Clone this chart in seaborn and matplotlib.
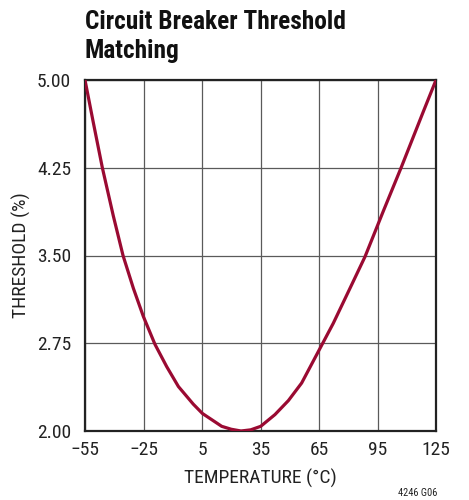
import matplotlib
matplotlib.use("Agg")
import matplotlib.pyplot as plt
import seaborn as sns
import pandas as pd

temperature = [-55, -50.9, -46.1, -40.5, -35.5, -30.2, -25.1, -19.1, -13.1, -7.1, 0.5, 5.2, 15.1, 20, 25,
               30, 35.1, 42.4, 49.3, 56.1, 65, 72.3, 80.9, 88.6, 98, 107.1, 118.5, 125]
threshold = [5.00, 4.65, 4.25, 3.84, 3.50, 3.22, 2.98, 2.74, 2.55, 2.38, 2.23, 2.15, 2.04, 2.015, 2.00,
             2.01, 2.04, 2.14, 2.26, 2.41, 2.69, 2.92, 3.22, 3.49, 3.88, 4.25, 4.73, 5.00]
x_ticks = [-55, -25, 5, 35, 65, 95, 125]
x_tick_labels = ["\u221255", "\u221225", "5", "35", "65", "95", "125"]
y_ticks = [2.00, 2.75, 3.50, 4.25, 5.00]
y_tick_labels = ["2.00", "2.75", "3.50", "4.25", "5.00"]

df = pd.DataFrame({"T": temperature, "thr": threshold})

sns.set_style("white")
fam = ["Roboto Condensed", "Roboto", "DejaVu Sans"]
plt.rcParams["font.family"] = fam

fig = plt.figure(figsize=(4.69, 5.00), dpi=100)
ax = fig.add_axes([85/469, 1-431/500, 351/469, 351/500])

sns.lineplot(data=df, x="T", y="thr", ax=ax, color="#9a0a32", linewidth=2.3, zorder=3)
for ln in ax.get_lines():
    ln.set_solid_joinstyle("round")
    ln.set_solid_capstyle("round")

ax.set_xlim(-55, 125)
ax.set_ylim(2.0, 5.0)
ax.set_xticks(x_ticks)
ax.set_xticklabels(x_tick_labels)
ax.set_yticks(y_ticks)
ax.set_yticklabels(y_tick_labels)
ax.grid(True, color="#5a5a5a", linewidth=0.9)
for s in ax.spines.values():
    s.set_color("#222222")
    s.set_linewidth(1.6)
ax.tick_params(axis="both", labelsize=14, colors="#222222", length=0)
ax.tick_params(axis="x", pad=7)
ax.tick_params(axis="y", pad=10)
ax.set_xlabel("TEMPERATURE (\u00b0C)", fontsize=14, color="#222222", labelpad=7)
ax.set_ylabel("THRESHOLD (%)", fontsize=14, color="#222222", labelpad=4)

fig.text(85/469, 1-29/500, "Circuit Breaker Threshold", ha="left", va="baseline",
         fontsize=18.3, fontweight="bold", color="#111111")
fig.text(85/469, 1-58/500, "Matching", ha="left", va="baseline",
         fontsize=18.3, fontweight="bold", color="#111111")
fig.text(437/469, 1-493/500, "4246 G06", ha="right", va="center", fontsize=7.5, color="#222222")

fig.savefig("out.png", dpi=100)
